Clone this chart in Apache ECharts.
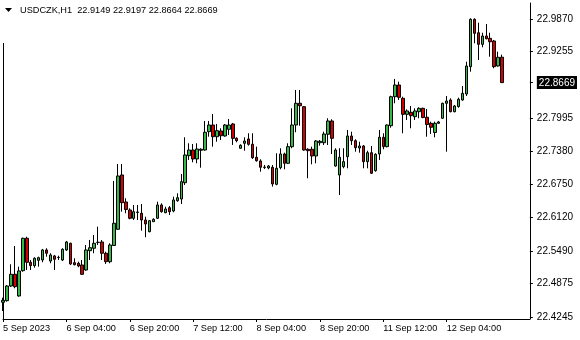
<!DOCTYPE html>
<html><head><meta charset="utf-8">
<script src="https://cdn.jsdelivr.net/npm/echarts@6/dist/echarts.min.js"></script>
<style>html,body{margin:0;padding:0;background:#fff}#c{width:580px;height:340px}</style>
</head><body><div id="c"></div>
<script>
const titleText = 'USDCZK,H1  22.9149 22.9197 22.8664 22.8669';
const timeLabels = ['5 Sep 2023','6 Sep 04:00','6 Sep 20:00','7 Sep 12:00','8 Sep 04:00','8 Sep 20:00','11 Sep 12:00','12 Sep 04:00'];
const labelEvery = 16;
const totalSlots = 134;
const yTicks = [22.9870, 22.9255, 22.7995, 22.7380, 22.6750, 22.6120, 22.5490, 22.4875, 22.4245];
const yMin = 22.4207, yMax = 23.0172;

const opens = [22.4523,22.4553,22.4830,22.5051,22.4642,22.5119,22.5731,22.5278,22.5214,22.5315,
22.5321,22.5510,22.5302,22.5397,22.5368,22.5321,22.5510,22.5636,22.5270,22.5259,
22.5227,22.5132,22.5497,22.5542,22.5652,22.5661,22.5448,22.5289,22.5595,22.5901,
22.6926,22.6416,22.6265,22.6108,22.6218,22.6203,22.6076,22.5855,22.6044,22.6108,
22.6359,22.6214,22.6308,22.6246,22.6440,22.6472,22.6780,22.7290,22.7397,22.7228,
22.7392,22.7397,22.7743,22.7869,22.7648,22.7756,22.7662,22.7788,22.7888,22.7618,
22.7430,22.7524,22.7605,22.7505,22.7260,22.7190,22.7073,22.7058,22.7071,22.6750,
22.7063,22.7322,22.7146,22.7460,22.7869,22.8279,22.8215,22.7411,22.7411,22.7284,
22.7535,22.7535,22.7694,22.7945,22.7095,22.6926,22.7082,22.7271,22.7662,22.7573,
22.7435,22.7473,22.7177,22.7346,22.7007,22.7322,22.7637,22.7460,22.7856,22.8403,
22.8624,22.8373,22.8071,22.8109,22.8026,22.8120,22.8184,22.8015,22.7901,22.7728,
22.7901,22.7996,22.8279,22.8341,22.8120,22.8218,22.8341,22.8454,22.8970,22.9864,
22.9611,22.9392,22.9549,22.9505,22.9455,22.8983,22.9149];
const closes = [22.4560,22.4830,22.5051,22.4817,22.5114,22.5731,22.5278,22.5214,22.5353,22.5365,
22.5510,22.5448,22.5416,22.5334,22.5372,22.5523,22.5661,22.5246,22.5232,22.5208,
22.5051,22.5510,22.5553,22.5636,22.5655,22.5448,22.5289,22.5604,22.6014,22.6907,
22.6403,22.6274,22.6108,22.6233,22.6227,22.6076,22.6001,22.6063,22.6089,22.6359,
22.6233,22.6284,22.6233,22.6454,22.6497,22.6799,22.7303,22.7397,22.7228,22.7416,
22.7411,22.7732,22.7869,22.7648,22.7762,22.7667,22.7869,22.7869,22.7618,22.7573,
22.7486,22.7567,22.7505,22.7252,22.7195,22.7071,22.7069,22.7095,22.6756,22.7052,
22.7322,22.7146,22.7460,22.7869,22.8279,22.8233,22.7397,22.7384,22.7284,22.7567,
22.7561,22.7699,22.7945,22.7618,22.7397,22.7260,22.7177,22.7662,22.7573,22.7441,
22.7473,22.7177,22.7346,22.6958,22.7316,22.7637,22.7460,22.7869,22.8403,22.8624,
22.8392,22.8071,22.8134,22.8045,22.8134,22.8184,22.8011,22.7879,22.7826,22.7901,
22.7926,22.8279,22.8322,22.8120,22.8228,22.8354,22.8467,22.8983,22.9864,22.9600,
22.9392,22.9549,22.9497,22.9441,22.8970,22.9147,22.8669];
const lows = [22.4358,22.4534,22.4811,22.4787,22.4628,22.5100,22.5132,22.5132,22.5176,22.5195,
22.5278,22.5383,22.5259,22.5132,22.5321,22.5302,22.5491,22.5227,22.5221,22.5183,
22.5038,22.5119,22.5321,22.5448,22.5604,22.5321,22.5246,22.5259,22.5585,22.5887,
22.6233,22.6203,22.6089,22.6076,22.6076,22.5874,22.5750,22.5844,22.6038,22.6095,
22.6214,22.6203,22.6170,22.6222,22.6421,22.6378,22.6737,22.7209,22.7165,22.7146,
22.7063,22.7384,22.7648,22.7460,22.7554,22.7586,22.7648,22.7680,22.7492,22.7543,
22.7422,22.7384,22.7479,22.7228,22.7177,22.6988,22.7039,22.7033,22.6705,22.6731,
22.7033,22.7033,22.7133,22.7430,22.7732,22.7856,22.7384,22.6863,22.7127,22.7146,
22.7479,22.7492,22.7492,22.7322,22.7082,22.6548,22.7052,22.7052,22.7492,22.7365,
22.7346,22.7052,22.7052,22.6944,22.6988,22.7209,22.7411,22.7449,22.7818,22.8279,
22.8341,22.7713,22.7964,22.7807,22.7964,22.7996,22.7996,22.7648,22.7699,22.7637,
22.7893,22.7983,22.7365,22.8109,22.8109,22.8196,22.8328,22.8417,22.8875,22.9411,
22.9096,22.9336,22.9487,22.9158,22.8940,22.8970,22.8664];
const highs = [22.4610,22.4849,22.5240,22.5585,22.5195,22.5742,22.5761,22.5321,22.5372,22.5383,
22.5529,22.5542,22.5448,22.5416,22.5402,22.5542,22.5680,22.5648,22.5353,22.5289,
22.5321,22.5604,22.5699,22.5793,22.5950,22.5699,22.5478,22.5636,22.6812,22.7133,
22.7133,22.6486,22.6297,22.6359,22.6359,22.6378,22.6138,22.6076,22.6108,22.6422,
22.6391,22.6327,22.6340,22.6516,22.6580,22.6944,22.7637,22.7524,22.7511,22.7524,
22.7430,22.7945,22.7945,22.8077,22.7888,22.7807,22.7888,22.7983,22.7907,22.7637,
22.7505,22.7637,22.7713,22.7713,22.7460,22.7222,22.7114,22.7114,22.7114,22.7335,
22.7430,22.7346,22.7524,22.8184,22.8530,22.8530,22.8228,22.7430,22.7460,22.7586,
22.7586,22.7743,22.7996,22.7977,22.7430,22.7430,22.7430,22.7775,22.7743,22.7599,
22.7554,22.7492,22.7384,22.7473,22.7335,22.7775,22.7713,22.7879,22.8422,22.8738,
22.8687,22.8403,22.8165,22.8228,22.8184,22.8203,22.8196,22.8171,22.7932,22.7932,
22.7945,22.8290,22.8417,22.8373,22.8247,22.8385,22.8605,22.9064,22.9883,22.9883,
22.9800,22.9611,22.9776,22.9611,22.9474,22.9253,22.9197];

const lastPrice = closes[closes.length - 1];
const categories = [];
for (let i = 0; i < totalSlots; i++) categories.push(String(i));
const isLabelIdx = (i) => i % labelEvery === 0 && (i / labelEvery) < timeLabels.length;
const candleData = opens.map((o, i) => [o, closes[i], lows[i], highs[i]]);
const FONT = 'Liberation Sans';

const chart = echarts.init(document.getElementById('c'), null, {renderer: 'canvas'});
chart.setOption({
  animation: false,
  backgroundColor: '#fff',
  grid: {left: 3, right: 46, top: 3, bottom: 21, show: false},
  xAxis: {
    type: 'category', data: categories, boundaryGap: false,
    axisLine: {show: true, lineStyle: {color: '#000', width: 1}},
    axisTick: {show: true, inside: false, length: 3, lineStyle: {color: '#000'}, interval: (i) => isLabelIdx(i)},
    axisLabel: {show: true, interval: (i) => isLabelIdx(i), formatter: (v, i) => timeLabels[i / labelEvery] || '',
      align: 'left', margin: 5, color: '#000', fontFamily: FONT, fontSize: 9.2},
    splitLine: {show: false}
  },
  yAxis: {
    type: 'value', position: 'right', min: yMin, max: yMax, scale: true,
    axisLine: {show: true, lineStyle: {color: '#000', width: 1}},
    axisTick: {show: true, inside: false, length: 3, lineStyle: {color: '#000'}, customValues: yTicks.concat([lastPrice])},
    axisLabel: {show: true, customValues: yTicks.concat([lastPrice]), margin: 7, color: '#000', fontFamily: FONT, fontSize: 10,
      formatter: (v) => Math.abs(v - lastPrice) < 1e-7 ? '{cur|' + v.toFixed(4) + '}' : v.toFixed(4),
      rich: {cur: {backgroundColor: '#000', color: '#fff', padding: [2, 2, 1, 2], fontFamily: FONT, fontSize: 10}}},
    splitLine: {show: false}
  },
  graphic: [
    {type: 'line', shape: {x1: 3.5, y1: 43, x2: 3.5, y2: 319}, style: {stroke: '#000', lineWidth: 1}},
    {type: 'polygon', shape: {points: [[5, 8], [12, 8], [8.5, 12]]}, style: {fill: '#000'}},
    {type: 'text', left: 20, top: 6, style: {text: titleText, fill: '#000', font: '9.2px "Liberation Sans"'}}
  ],
  series: [{
    type: 'candlestick', data: candleData, barWidth: 3,
    itemStyle: {color: '#35b845', color0: '#d40000', borderColor: '#000', borderColor0: '#000', borderWidth: 1}
  }]
});
</script></body></html>
